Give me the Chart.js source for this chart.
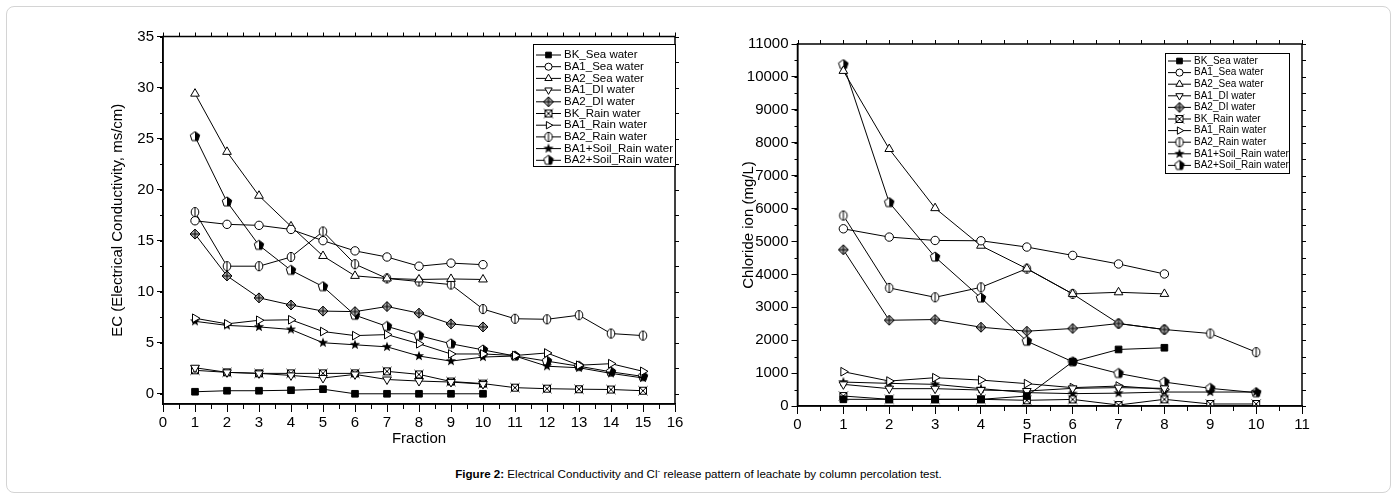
<!DOCTYPE html>
<html>
<head>
<meta charset="utf-8">
<script src="https://cdn.jsdelivr.net/npm/chart.js@4.4.1/dist/chart.umd.min.js"></script>
<style>
  body { margin: 0; background: #fff; }
  #frame { position: absolute; left: 6px; top: 6px; width: 1383px; height: 485px; border: 1px solid #d4d4d4; border-radius: 8px; }
  canvas { position: absolute; top: 0; }
  #caption { position: absolute; left: 0; width: 1397px; top: 466px; text-align: center;
             font: 11.6px "Liberation Sans", Arial, sans-serif; color: #000; }
  #caption sup { font-size: 8px; }
</style>
</head>
<body>
<div id="frame"></div>
<canvas id="ec_chart" width="700" height="460" style="left:0px"></canvas>
<canvas id="cl_chart" width="697" height="460" style="left:700px"></canvas>
<div id="caption"><b>Figure 2:</b> Electrical Conductivity and Cl<sup>-</sup> release pattern of leachate by column percolation test.</div>
<script>
var seriesNames = ["BK_Sea water", "BA1_Sea water", "BA2_Sea water", "BA1_DI water", "BA2_DI water",
  "BK_Rain water", "BA1_Rain water", "BA2_Rain water", "BA1+Soil_Rain water", "BA2+Soil_Rain water"];

// left chart: EC (ms/cm) per fraction
var ecFractions = [1, 2, 3, 4, 5, 6, 7, 8, 9, 10, 11, 12, 13, 14, 15];
var ecBkSea = [0.2, 0.3, 0.3, 0.35, 0.45, 0, 0, 0, 0, 0];
var ecBa1Sea = [16.95, 16.6, 16.5, 16.1, 15.0, 14.0, 13.4, 12.5, 12.8, 12.65];
var ecBa2Sea = [29.4, 23.7, 19.4, 16.4, 13.5, 11.55, 11.3, 11.2, 11.25, 11.2];
var ecBa1Di = [2.55, 2.1, 2.0, 1.8, 1.55, 1.9, 1.4, 1.25, 1.15, 0.95];
var ecBa2Di = [15.65, 11.55, 9.4, 8.7, 8.1, 8.05, 8.55, 7.9, 6.85, 6.55];
var ecBkRain = [2.3, 2.1, 2.0, 2.0, 2.0, 2.0, 2.2, 1.9, 1.2, 1.0, 0.6, 0.5, 0.45, 0.42, 0.3];
var ecBa1Rain = [7.4, 6.85, 7.2, 7.25, 6.1, 5.7, 5.8, 4.9, 3.9, 3.9, 3.75, 4.0, 2.8, 2.95, 2.2];
var ecBa2Rain = [17.8, 12.5, 12.5, 13.4, 15.9, 12.7, 11.3, 11.0, 10.7, 8.3, 7.35, 7.3, 7.7, 5.9, 5.7];
var ecBa1SoilRain = [7.1, 6.7, 6.55, 6.3, 5.0, 4.8, 4.6, 3.7, 3.2, 3.6, 3.7, 2.7, 2.55, 2.0, 1.55];
var ecBa2SoilRain = [25.2, 18.8, 14.55, 12.1, 10.5, 7.7, 6.6, 5.7, 4.9, 4.3, 3.7, 3.2, 2.7, 2.15, 1.7];
var ecXTicks = [0, 1, 2, 3, 4, 5, 6, 7, 8, 9, 10, 11, 12, 13, 14, 15, 16];
var ecYTicks = [0, 5, 10, 15, 20, 25, 30, 35];

// right chart: chloride ion (mg/L) per fraction
var clFractions = [1, 2, 3, 4, 5, 6, 7, 8, 9, 10];
var clBkSea = [203, 203, 203, 203, 303, 1345, 1718, 1770];
var clBa1Sea = [5385, 5133, 5030, 5021, 4830, 4576, 4315, 4012];
var clBa2Sea = [10182, 7809, 6012, 4870, 4173, 3406, 3455, 3406];
var clBa1Di = [658, 527, 527, 485, 455, 536, 558, 536];
var clBa2Di = [4748, 2606, 2627, 2394, 2273, 2355, 2506, 2324];
var clBkRain = [303, 203, 203, 203, 173, 200, 30, 203, 61, 61];
var clBa1Rain = [1042, 758, 860, 788, 679, 558, 606, 506];
var clBa2Rain = [5788, 3588, 3303, 3606, 4173, 3406, 2506, 2324, 2203, 1636];
var clBa1SoilRain = [727, 688, 658, 527, 406, 376, 390, 424, 424, 424];
var clBa2SoilRain = [10376, 6182, 4527, 3285, 1970, 1345, 990, 727, 536, 406];
var clXTicks = [0, 1, 2, 3, 4, 5, 6, 7, 8, 9, 10, 11];
var clYTicks = [0, 1000, 2000, 3000, 4000, 5000, 6000, 7000, 8000, 9000, 10000, 11000];

Chart.defaults.font.family = '"Liberation Sans", Arial, sans-serif';
Chart.defaults.color = '#000';

// small canvases used as point styles for the Origin-like symbols
function makeMarker(draw) {
  var c = document.createElement('canvas');
  c.width = 12; c.height = 12;
  var g = c.getContext('2d');
  g.translate(6, 6);
  g.lineWidth = 1;
  g.strokeStyle = '#000';
  g.fillStyle = '#fff';
  draw(g);
  return c;
}
var circleBar = makeMarker(function (g) {
  g.beginPath(); g.ellipse(0, 0, 3.8, 4.6, 0, 0, Math.PI * 2); g.fill(); g.stroke();
  g.beginPath(); g.moveTo(0, -4.6); g.lineTo(0, 4.6); g.stroke();
});
var diamondCross = makeMarker(function (g) {
  g.beginPath(); g.moveTo(0, -5); g.lineTo(5, 0); g.lineTo(0, 5); g.lineTo(-5, 0); g.closePath();
  g.fillStyle = '#aaa'; g.fill(); g.stroke();
  g.beginPath(); g.moveTo(-5, 0); g.lineTo(5, 0); g.moveTo(0, -5); g.lineTo(0, 5); g.stroke();
});
var boxX = makeMarker(function (g) {
  g.beginPath(); g.rect(-3.5, -3.5, 7, 7); g.fill(); g.stroke();
  g.beginPath(); g.moveTo(-4.5, -4.5); g.lineTo(4.5, 4.5); g.moveTo(4.5, -4.5); g.lineTo(-4.5, 4.5); g.stroke();
});
var filledStar = makeMarker(function (g) {
  g.beginPath();
  for (var k = 0; k < 10; k++) {
    var r = k % 2 ? 2.2 : 5.3, a = -Math.PI / 2 + k * Math.PI / 5;
    g.lineTo(Math.cos(a) * r, Math.sin(a) * r);
  }
  g.closePath(); g.fillStyle = '#000'; g.fill();
});
var halfPentagon = makeMarker(function (g) {
  g.beginPath();
  for (var k = 0; k < 5; k++) {
    var a = -Math.PI / 2 + k * 2 * Math.PI / 5;
    g.lineTo(Math.cos(a) * 5, Math.sin(a) * 5);
  }
  g.closePath(); g.fill();
  g.save(); g.clip(); g.fillStyle = '#000'; g.fillRect(0, -6, 6, 12); g.restore();
  g.stroke();
});

var markerStyles = [
  { pointStyle: 'rect', radius: 4.7, fill: '#000', rotation: 0 },
  { pointStyle: 'circle', radius: 4.2, fill: '#fff', rotation: 0 },
  { pointStyle: 'triangle', radius: 5, fill: '#fff', rotation: 0 },
  { pointStyle: 'triangle', radius: 5, fill: '#fff', rotation: 180 },
  { pointStyle: diamondCross, radius: 5, fill: '#fff', rotation: 0 },
  { pointStyle: boxX, radius: 5, fill: '#fff', rotation: 0 },
  { pointStyle: 'triangle', radius: 5, fill: '#fff', rotation: 90 },
  { pointStyle: circleBar, radius: 5, fill: '#fff', rotation: 0 },
  { pointStyle: filledStar, radius: 5, fill: '#000', rotation: 0 },
  { pointStyle: halfPentagon, radius: 5, fill: '#fff', rotation: 0 }
];

function buildDatasets(xs, seriesList) {
  return seriesList.map(function (vals, i) {
    var m = markerStyles[i];
    return {
      label: seriesNames[i],
      data: vals.map(function (v, j) { return { x: xs[j], y: v }; }),
      borderColor: '#000',
      borderWidth: 1,
      pointStyle: m.pointStyle,
      pointRadius: m.radius,
      pointRotation: m.rotation,
      pointBackgroundColor: m.fill,
      pointBorderColor: '#000',
      pointBorderWidth: 1,
      tension: 0
    };
  });
}

// legend box in the upper right of the plot, Origin style
function boxLegend(box) {
  return {
    id: 'boxLegend',
    afterDraw: function (chart) {
      var ctx = chart.ctx;
      ctx.save();
      ctx.fillStyle = '#fff';
      ctx.fillRect(box.x, box.y, box.w, box.h);
      ctx.strokeStyle = '#000'; ctx.lineWidth = 1;
      ctx.strokeRect(box.x + 0.5, box.y + 0.5, box.w, box.h);
      ctx.font = box.font + 'px "Liberation Sans", Arial, sans-serif';
      ctx.textBaseline = 'middle';
      chart.data.datasets.forEach(function (ds, i) {
        var y = box.y + box.first + i * box.row;
        ctx.strokeStyle = '#000'; ctx.lineWidth = 1;
        ctx.beginPath(); ctx.moveTo(box.x + 3, y); ctx.lineTo(box.x + box.line, y); ctx.stroke();
        var mx = box.x + 3 + (box.line - 3) / 2;
        ctx.fillStyle = ds.pointBackgroundColor;
        Chart.helpers.drawPoint(ctx, { pointStyle: ds.pointStyle, rotation: ds.pointRotation,
          radius: ds.pointRadius * 0.85, borderWidth: 1 }, mx, y);
        ctx.fillStyle = '#000';
        ctx.fillText(ds.label, box.x + box.line + 3, y);
      });
      ctx.restore();
    }
  };
}

// closed frame with minor ticks and mirrored ticks on top/right
function frameTicks(xMinor, yMinor) {
  return {
    id: 'frameTicks',
    afterDraw: function (chart) {
      var ctx = chart.ctx, a = chart.chartArea, sx = chart.scales.x, sy = chart.scales.y;
      ctx.save();
      ctx.strokeStyle = '#000';
      ctx.lineWidth = 1;
      ctx.beginPath();
      for (var v = sx.min; v <= sx.max + 1e-9; v += xMinor) {
        var px = Math.round(sx.getPixelForValue(v)) + 0.5;
        ctx.moveTo(px, a.top); ctx.lineTo(px, a.top - 4);
        if (Math.abs(v - Math.round(v)) > 1e-6) { ctx.moveTo(px, a.bottom); ctx.lineTo(px, a.bottom + 5); }
      }
      var y0 = Math.ceil(sy.min / yMinor) * yMinor;
      for (var w = y0; w <= sy.max + 1e-9; w += yMinor) {
        var py = Math.round(sy.getPixelForValue(w)) + 0.5;
        ctx.moveTo(a.right, py); ctx.lineTo(a.right + 4, py);
        ctx.moveTo(a.left, py); ctx.lineTo(a.left - 3, py);
      }
      ctx.stroke();
      ctx.lineWidth = 1.5;
      ctx.strokeRect(a.left, a.top, a.right - a.left, a.bottom - a.top);
      ctx.restore();
    }
  };
}

function axisX(min, max, ticks, height) {
  return {
    type: 'linear', position: 'bottom', min: min, max: max,
    afterBuildTicks: function (s) { s.ticks = ticks.map(function (v) { return { value: v }; }); },
    afterFit: function (s) { s.height = height; },
    ticks: { font: { size: 15 }, padding: 2, autoSkip: false, maxRotation: 0 },
    grid: { drawOnChartArea: false, tickLength: 8, color: '#000', lineWidth: 1 },
    border: { color: '#000', width: 1.5 },
    title: { display: true, text: 'Fraction', font: { size: 15 }, padding: { top: 0, bottom: 4 } }
  };
}
function axisY(min, max, ticks, width, titleText) {
  return {
    type: 'linear', position: 'left', min: min, max: max,
    afterBuildTicks: function (s) { s.ticks = ticks.map(function (v) { return { value: v }; }); },
    afterFit: function (s) { s.width = width; },
    ticks: { font: { size: 15 }, padding: 3, callback: function (v) { return String(v); } },
    grid: { drawOnChartArea: false, tickLength: 6, color: '#000', lineWidth: 1 },
    border: { color: '#000', width: 1.5 },
    title: { display: true, text: titleText, font: { size: 15 }, padding: { top: 4, bottom: 4 } }
  };
}

new Chart(document.getElementById('ec_chart'), {
  type: 'line',
  data: { datasets: buildDatasets(ecFractions, [ecBkSea, ecBa1Sea, ecBa2Sea, ecBa1Di, ecBa2Di,
    ecBkRain, ecBa1Rain, ecBa2Rain, ecBa1SoilRain, ecBa2SoilRain]) },
  options: {
    responsive: false, animation: false,
    layout: { padding: { left: 105, right: 25, top: 36.5, bottom: 8 } },
    plugins: { legend: { display: false }, tooltip: { enabled: false } },
    scales: {
      x: axisX(0, 16, ecXTicks, 48),
      y: axisY(-1, 35, ecYTicks, 58, 'EC (Electrical Conductivity, ms/cm)')
    }
  },
  plugins: [frameTicks(0.5, 2.5), boxLegend({ x: 533, y: 44, w: 142, h: 122, first: 11, row: 11.7, line: 28, font: 11.5 })]
});

new Chart(document.getElementById('cl_chart'), {
  type: 'line',
  data: { datasets: buildDatasets(clFractions, [clBkSea, clBa1Sea, clBa2Sea, clBa1Di, clBa2Di,
    clBkRain, clBa1Rain, clBa2Rain, clBa1SoilRain, clBa2SoilRain]) },
  options: {
    responsive: false, animation: false,
    layout: { padding: { left: 36, right: 95, top: 44, bottom: 8 } },
    plugins: { legend: { display: false }, tooltip: { enabled: false } },
    scales: {
      x: axisX(0, 11, clXTicks, 46),
      y: axisY(0, 11000, clYTicks, 61.5, 'Chloride ion (mg/L)')
    }
  },
  plugins: [frameTicks(0.5, 500), boxLegend({ x: 465, y: 53, w: 124, h: 120, first: 8, row: 11.6, line: 26, font: 10 })]
});
</script>
</body>
</html>
